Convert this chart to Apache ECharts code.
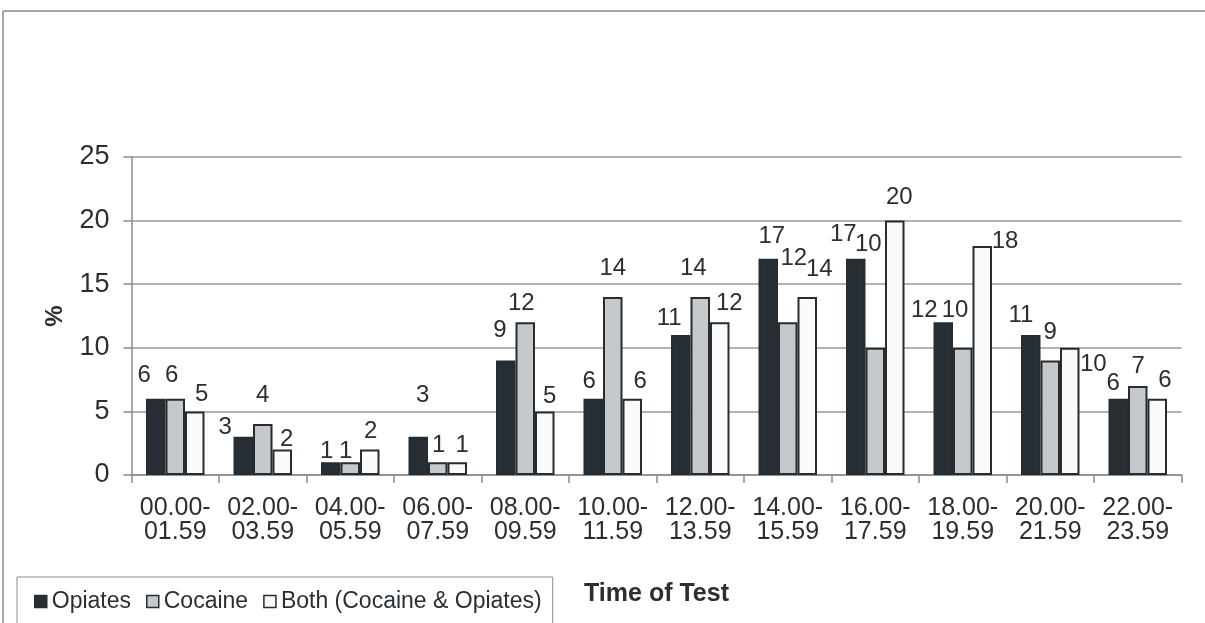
<!DOCTYPE html>
<html>
<head>
<meta charset="utf-8">
<script src="https://cdn.jsdelivr.net/npm/echarts@6/dist/echarts.min.js"></script>
<style>
  html, body { margin: 0; padding: 0; background: #ffffff; }
  #chart { width: 1205px; height: 623px; }
</style>
</head>
<body>
<div id="chart"></div>
<script>
// ---- data ----
const categories = ['00.00-01.59', '02.00-03.59', '04.00-05.59', '06.00-07.59', '08.00-09.59', '10.00-11.59',
                    '12.00-13.59', '14.00-15.59', '16.00-17.59', '18.00-19.59', '20.00-21.59', '22.00-23.59'];
const opiates = [6, 3, 1, 3, 9, 6, 11, 17, 17, 12, 11, 6];
const cocaine = [6, 4, 1, 1, 12, 14, 14, 12, 10, 10, 9, 7];
const both    = [5, 2, 2, 1, 5, 6, 12, 14, 20, 18, 10, 6];
const seriesNames = ['Opiates', 'Cocaine', 'Both (Cocaine & Opiates)'];
const yMin = 0, yMax = 25, yStep = 5;

// ---- label placement tweaks (dx, height above bar top), mimicking the original's label layout ----
const labelNudgeOpiates = [[-11.5,23.7],[-18,9],[-4,10.6],[4.5,41],[-5.75,30.5],[-4,17],[-11.5,16.7],[3.5,22],[-12.5,24.5],[-19,12.4],[-9.75,20],[-5,15.4]];
const labelNudgeCocaine = [[-3.5,23.7],[0,29],[-4.5,10.6],[1,17],[-4,19],[0,28.7],[-7,28.7],[6,64],[-7,103],[-7.75,37.8],[0,27.8],[0.5,19.3]];
const labelNudgeBoth    = [[7,17.4],[4.5,10.5],[1,18],[5,17],[5,15.4],[8,17],[9.5,19],[12,28],[4.5,23],[22.75,4.3],[23.6,-17],[7.75,18.7]];

const FONT = '"Liberation Sans", Arial, sans-serif';
const TEXT = '#2a2f33';
const LABEL_LH = 24;

function buildData(values, nudges) {
  return values.map((v, i) => ({
    value: v,
    label: { offset: [nudges[i][0], -(nudges[i][1] - LABEL_LH / 2)] }
  }));
}

function barSeries(name, values, nudges, color) {
  return {
    name: name,
    type: 'bar',
    barWidth: 19.5,
    barGap: '0%',
    data: buildData(values, nudges),
    itemStyle: { color: color, borderColor: '#262c31', borderWidth: 2 },
    label: {
      show: true, position: 'top', distance: 0,
      fontFamily: FONT, fontSize: 24, lineHeight: LABEL_LH, color: TEXT
    },
    emphasis: { disabled: true }
  };
}

const chart = echarts.init(document.getElementById('chart'), null, { renderer: 'canvas' });
chart.setOption({
  animation: false,
  backgroundColor: '#ffffff',
  textStyle: { fontFamily: FONT },
  grid: { left: 131.5, right: 23.5, top: 157, bottom: 148, containLabel: false },
  legend: {
    data: seriesNames,
    left: 17, top: 577,
    padding: [13, 11, 40, 17],
    borderColor: '#8c8c8c', borderWidth: 1,
    itemWidth: 12, itemHeight: 12, itemGap: 15,
    icon: 'rect',
    itemStyle: { borderWidth: 1.5 },
    textStyle: { fontFamily: FONT, fontSize: 23, color: TEXT }
  },
  xAxis: {
    type: 'category',
    data: categories,
    name: 'Time of Test',
    nameLocation: 'middle',
    nameGap: 107,
    nameTextStyle: { fontFamily: FONT, fontSize: 25, fontWeight: 'bold', color: TEXT, verticalAlign: 'top' },
    axisLine: { lineStyle: { color: '#8a8a8a', width: 1.5 } },
    axisTick: { show: true, length: 8, lineStyle: { color: '#8a8a8a', width: 1.5 } },
    axisLabel: {
      fontFamily: FONT, fontSize: 25, lineHeight: 24, color: TEXT, margin: 21,
      interval: 0,
      formatter: v => v.replace('-', '-\n')
    }
  },
  yAxis: {
    type: 'value',
    min: yMin, max: yMax, interval: yStep,
    name: '%',
    nameLocation: 'middle',
    nameRotate: 90,
    nameGap: 64,
    nameTextStyle: { fontFamily: FONT, fontSize: 24, fontWeight: 'bold', color: TEXT },
    axisLine: { show: true, lineStyle: { color: '#8a8a8a', width: 1.5 } },
    axisTick: { show: true, length: 8, lineStyle: { color: '#8a8a8a', width: 1.5 } },
    splitLine: { lineStyle: { color: '#9a9a9a', width: 1.5 } },
    axisLabel: { fontFamily: FONT, fontSize: 27, color: TEXT, margin: 22 }
  },
  graphic: [
    { type: 'line', shape: { x1: 3, y1: 11, x2: 1205, y2: 11 }, style: { stroke: '#8a8a8a', lineWidth: 1.5 }, silent: true },
    { type: 'line', shape: { x1: 3, y1: 11, x2: 3, y2: 623 }, style: { stroke: '#8a8a8a', lineWidth: 1.5 }, silent: true }
  ],
  series: [
    barSeries(seriesNames[0], opiates, labelNudgeOpiates, '#272e34'),
    barSeries(seriesNames[1], cocaine, labelNudgeCocaine, '#c6c9cb'),
    barSeries(seriesNames[2], both, labelNudgeBoth, '#fafafa')
  ]
});
</script>
</body>
</html>
